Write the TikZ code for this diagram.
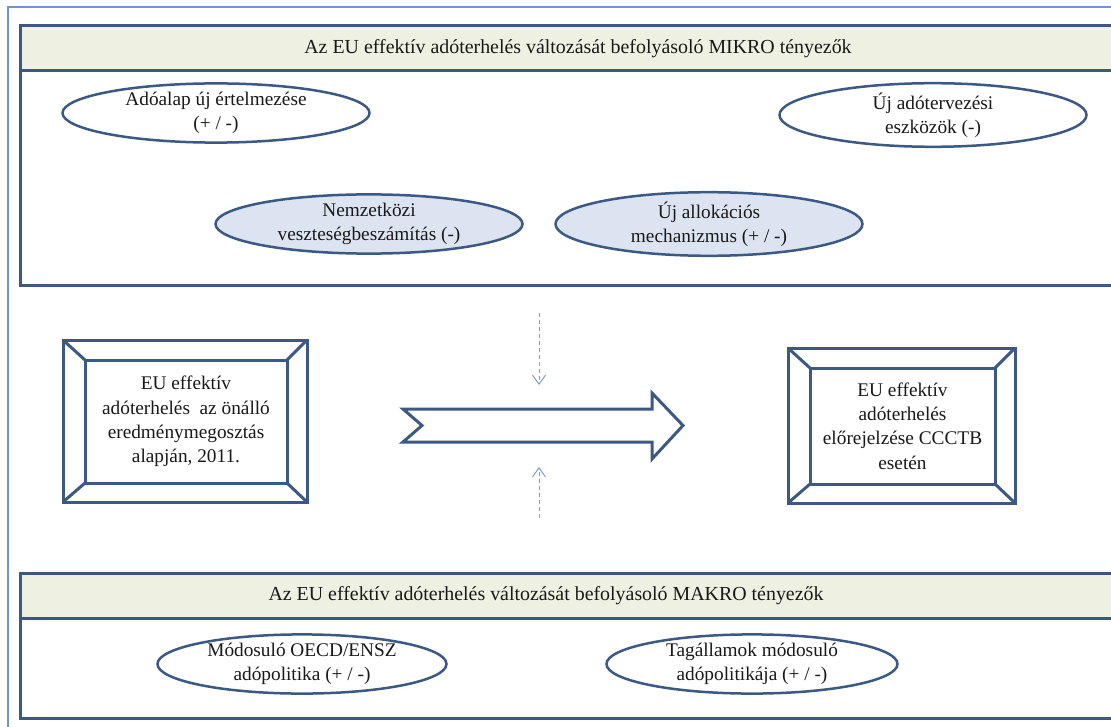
\documentclass[tikz,border=0pt]{standalone}
\usepackage{fontspec}
\setmainfont{Liberation Serif}
\usetikzlibrary{shapes.geometric,arrows.meta}
\definecolor{framedark}{RGB}{59,89,131}
\definecolor{headfill}{RGB}{238,240,226}
\definecolor{outerblue}{RGB}{110,150,205}
\definecolor{ovalfill}{RGB}{219,228,240}
\definecolor{dashblue}{RGB}{130,158,196}
\definecolor{inkgray}{RGB}{25,25,25}
\tikzset{
  txt/.style={font=\fontsize{19.3}{24.3}\selectfont, text=inkgray},
  headtxt/.style={font=\fontsize{19.9}{24}\selectfont, text=inkgray},
  panel/.style={draw=framedark, line width=3pt, fill=white},
  headband/.style={draw=framedark, line width=3pt, fill=headfill},
  oval/.style={ellipse, draw=framedark, line width=2.5pt, fill=white, inner sep=0pt,
    outer sep=0pt, minimum width=307pt, minimum height=53pt, align=center, txt},
  ovalblue/.style={oval, fill=ovalfill},
  bevelout/.style={rectangle, draw=framedark, line width=3pt, fill=white, inner sep=0pt, outer sep=0pt},
  bevelin/.style={rectangle, draw=framedark, line width=3pt, inner sep=0pt, outer sep=0pt, align=center, txt},
  bevelline/.style={draw=framedark, line width=3pt},
  bigarrow/.style={draw=framedark, line width=3pt, fill=white, line join=miter},
  dasharrow/.style={draw=dashblue, line width=1pt, dash pattern=on 4pt off 3pt,
    -{Straight Barb[length=9pt,width=13pt,line width=1pt]}}
}
\begin{document}
\begin{tikzpicture}[x=1pt,y=-1pt]
\useasboundingbox (0,0) rectangle (1111,727);
\fill[white] (0,0) rectangle (1111,727);
\begin{scope}
\clip (0,0) rectangle (1111,727);
% light outer frame
\draw[outerblue, line width=1.5pt] (8,760) -- (8,7) -- (1140,7);
% upper panel: micro factors
\draw[panel] (20,26) rectangle (1140,286);
\draw[headband] (20,26) rectangle (1140,71);
% lower panel: macro factors
\draw[panel] (20,573) rectangle (1140,718);
\draw[headband] (20,573) rectangle (1140,618);
\end{scope}

\node[headtxt] (mikro) at (578,49) {Az EU effektív adóterhelés változását befolyásoló MIKRO tényezők};
\node[headtxt] (makro) at (546,596) {Az EU effektív adóterhelés változását befolyásoló MAKRO tényezők};

% micro factor ovals
\node[oval] (adoalap) at (216,113) {Adóalap új értelmezése\\(+ / -)};
\node[oval] (eszkoz) at (933,115) {Új adótervezési\\eszközök (-)};
\node[ovalblue] (veszt) at (369,224) {Nemzetközi\\veszteségbeszámítás (-)};
\node[ovalblue] (alloc) at (709,224) {Új allokációs\\mechanizmus (+ / -)};

% macro factor ovals
\node[oval, minimum width=289pt] (oecd) at (302,664) {Módosuló OECD/ENSZ\\adópolitika (+ / -)};
\node[oval, minimum width=291pt] (tag) at (752,664) {Tagállamok módosuló\\adópolitikája (+ / -)};

% left bevelled box
\node[bevelout, minimum width=244pt, minimum height=162pt] (bal) at (185,421) {};
\node[bevelin, minimum width=202pt, minimum height=123pt] (balin) at (186,421.5)
  {EU effektív\\adóterhelés\ \ az önálló\\eredménymegosztás\\alapján, 2011.};
\foreach \c in {north west,north east,south west,south east}
  \draw[bevelline] (bal.\c) -- (balin.\c);

% right bevelled box
\node[bevelout, minimum width=227pt, minimum height=155pt] (jobb) at (901.5,425.5) {};
\node[bevelin, minimum width=185pt, minimum height=116pt] (jobbin) at (902.5,426)
  {EU effektív\\adóterhelés\\előrejelzése CCCTB\\esetén};
\foreach \c in {north west,north east,south west,south east}
  \draw[bevelline] (jobb.\c) -- (jobbin.\c);

% broad notched arrow between the boxes
\coordinate (a1) at (403,409);
\coordinate (a2) at (652,409);
\coordinate (a3) at (652,393);
\coordinate (a4) at (683,425.5);
\coordinate (a5) at (652,459);
\coordinate (a6) at (652,442);
\coordinate (a7) at (403,442);
\coordinate (a8) at (422,425.5);
\draw[bigarrow] (a1) -- (a2) -- (a3) -- (a4) -- (a5) -- (a6) -- (a7) -- (a8) -- cycle;

% dashed influence arrows
\coordinate (dtop) at (539,313);
\coordinate (dtopend) at (539,385);
\coordinate (dbot) at (539,518);
\coordinate (dbotend) at (539,467);
\draw[dasharrow] (dtop) -- (dtopend);
\draw[dasharrow] (dbot) -- (dbotend);
\end{tikzpicture}
\end{document}
